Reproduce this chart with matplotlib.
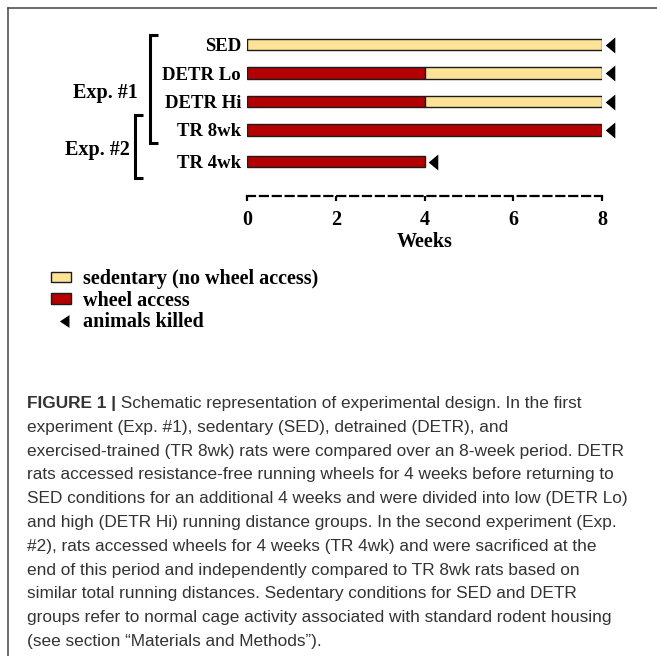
import matplotlib
matplotlib.use('Agg')
import matplotlib.pyplot as plt
import numpy as np
from matplotlib.path import Path
from matplotlib.patches import Patch
from matplotlib.lines import Line2D
import matplotlib.transforms as mtransforms

# ---------------- data ----------------
groups = ['SED', 'DETR Lo', 'DETR Hi', 'TR 8wk', 'TR 4wk']
wheel_weeks = [0, 4, 4, 8, 4]          # weeks with wheel access (from week 0)
sedentary_weeks = [8, 4, 4, 0, 0]      # sedentary weeks after wheel access
killed_at_week = [8, 8, 8, 8, 4]
week_ticks = [0, 2, 4, 6, 8]
experiments = ['Exp. #1', 'Exp. #2']
exp_first_group = [0, 3]
exp_last_group = [3, 4]
legend_labels = ['sedentary (no wheel access)', 'wheel access', 'animals killed']
caption_bold = 'FIGURE 1 |'
caption_lines = [
    ' Schematic representation of experimental design. In the first',
    'experiment (Exp. #1), sedentary (SED), detrained (DETR), and',
    'exercised-trained (TR 8wk) rats were compared over an 8-week period. DETR',
    'rats accessed resistance-free running wheels for 4 weeks before returning to',
    'SED conditions for an additional 4 weeks and were divided into low (DETR Lo)',
    'and high (DETR Hi) running distance groups. In the second experiment (Exp.',
    '#2), rats accessed wheels for 4 weeks (TR 4wk) and were sacrificed at the',
    'end of this period and independently compared to TR 8wk rats based on',
    'similar total running distances. Sedentary conditions for SED and DETR',
    'groups refer to normal cage activity associated with standard rodent housing',
    '(see section \u201cMaterials and Methods\u201d).',
]

# ---------------- style / layout ----------------
W, H = 657, 656
RED = '#B40000'
YEL = '#FDE398'
EDGE = '#1c1c1c'
SERIF = dict(family='Liberation Serif', weight='bold', size=13.5)
SERIF_L = dict(family='Liberation Serif', weight='bold', size=14.5)
CAP_FONT = 'Liberation Sans'
CAP_SIZE = 12.4
CAP_COLOR = '#333333'

row_pos = np.arange(len(groups)) + np.array([0, 0, 0, 0, 0.12])

fig = plt.figure(figsize=(W / 100, H / 100), dpi=100)


def fx(px):
    return px / W


def fy(py):
    return 1 - py / H


ax = fig.add_axes([fx(247), fy(196), (602 - 247) / W, (196 - 30) / H])
ax.set_xlim(0, 8)
ax.set_ylim(5.316, -0.509)
PX_PER_WEEK = (602 - 247) / 8.0


def pxw(dx):
    return dx / PX_PER_WEEK


wheel = np.array(wheel_weeks, dtype=float)
sed = np.array(sedentary_weeks, dtype=float)
m1 = wheel > 0
m2 = sed > 0
bh = 0.39
ax.barh(row_pos[m1], wheel[m1], left=0, height=bh, color=RED,
        edgecolor=EDGE, linewidth=1.0, zorder=3)
ax.barh(row_pos[m2], sed[m2], left=wheel[m2], height=bh, color=YEL,
        edgecolor=EDGE, linewidth=1.0, zorder=3)

tri = Path([(-0.6, 0), (0.6, 1), (0.6, -1), (-0.6, 0)],
           [Path.MOVETO, Path.LINETO, Path.LINETO, Path.CLOSEPOLY])
offset = mtransforms.ScaledTranslation(8 / 100, 0, fig.dpi_scale_trans)
ax.plot(killed_at_week, row_pos, ls='none', marker=tri, ms=11.5, mew=0,
        color='black', transform=ax.transData + offset, clip_on=False)

# group labels
for r, g in zip(row_pos, groups):
    ax.annotate(g, xy=(0, r), xytext=(-6, 0), textcoords='offset pixels',
                ha='right', va='center_baseline', **SERIF)

# brackets
br_x = [-97, -112]
br_top_pad = [0.333, 0.526]
br_bot_pad = [0.456, 0.564]
lab_dx = [-109, -117]
for i, name in enumerate(experiments):
    top = row_pos[exp_first_group[i]] - br_top_pad[i]
    bot = row_pos[exp_last_group[i]] + br_bot_pad[i]
    vx = pxw(br_x[i])
    ax_ = pxw(br_x[i] + 8)
    ax.plot([ax_, vx, vx, ax_], [top, top, bot, bot], color='black', lw=2.2,
            clip_on=False, solid_joinstyle='miter', solid_capstyle='butt')
    ax.annotate(name, xy=(0, (top + bot) / 2 + 0.05), xytext=(lab_dx[i], 0),
                textcoords='offset pixels', ha='right', va='center_baseline',
                **SERIF_L)

# axis
for s in ['left', 'top', 'right']:
    ax.spines[s].set_visible(False)
ax.spines['bottom'].set_linewidth(1.6)
ax.spines['bottom'].set_linestyle((0, (3.6, 2.2)))
ax.set_yticks([])
ax.set_xticks(week_ticks, labels=[str(t) for t in week_ticks], **SERIF_L)
ax.tick_params(axis='x', direction='out', length=3.8, width=1.6, pad=6.5)
ax.set_xlabel('Weeks', labelpad=1.0, **SERIF_L)
ax.patch.set_visible(False)

# legend
tri_leg = Path([(-0.2, 0), (1, 0.8), (1, -0.8), (-0.2, 0)],
               [Path.MOVETO, Path.LINETO, Path.LINETO, Path.CLOSEPOLY])
handles = [
    Patch(facecolor=YEL, edgecolor=EDGE, linewidth=1.0),
    Patch(facecolor=RED, edgecolor=EDGE, linewidth=1.0),
    Line2D([], [], ls='none', marker=tri_leg, ms=11.5, mew=0, color='black'),
]
fig.legend(handles, legend_labels, loc='upper left',
           bbox_to_anchor=(fx(51), fy(269)), frameon=False, prop=SERIF_L,
           handlelength=1.0, handleheight=0.42, handletextpad=0.6,
           labelspacing=0.08, borderpad=0, borderaxespad=0)

# caption
base0 = 408
line_step = 23.8
t1 = fig.text(fx(27), fy(base0), caption_bold, family=CAP_FONT, weight='bold',
              size=CAP_SIZE, color=CAP_COLOR, va='baseline', ha='left')
fig.canvas.draw()
bb = t1.get_window_extent(renderer=fig.canvas.get_renderer())
for i, line in enumerate(caption_lines):
    x0 = bb.x1 / W if i == 0 else fx(27)
    fig.text(x0, fy(base0 + i * line_step), line, family=CAP_FONT,
             size=CAP_SIZE, color=CAP_COLOR, va='baseline', ha='left')

# frame lines
fig.add_artist(Line2D([fx(8), 1], [fy(8), fy(8)], transform=fig.transFigure,
                      color='#444444', lw=1.1))
fig.add_artist(Line2D([fx(8), fx(8)], [fy(8), 0], transform=fig.transFigure,
                      color='#444444', lw=1.1))

fig.savefig('out.png', dpi=100)
